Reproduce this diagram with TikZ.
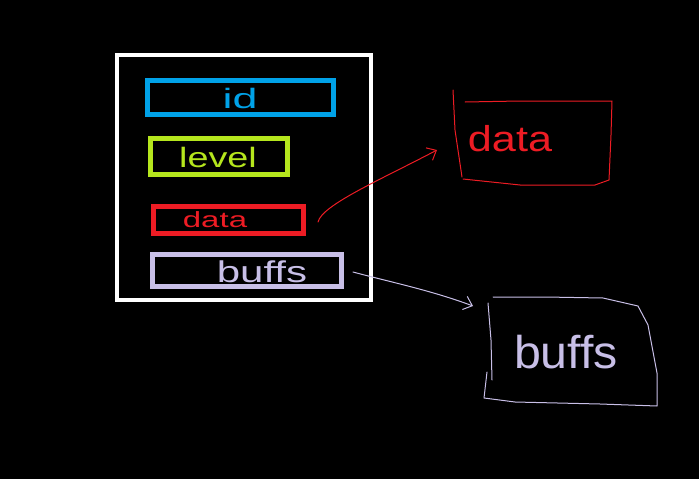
\documentclass[tikz,border=0pt]{standalone}
\usepackage{fontspec}
\usepackage{graphicx}
\setmainfont{Liberation Sans}
\usetikzlibrary{arrows.meta}
\definecolor{cblue}{HTML}{00A2E8}
\definecolor{cgreen}{HTML}{B5E61D}
\definecolor{cred}{HTML}{ED1C24}
\definecolor{clav}{HTML}{C8BFE7}
\tikzset{
  fieldbox/.style={draw, line width=5pt, inner sep=0pt},
  hand/.style={line width=1pt, line cap=round, line join=round},
  lbl/.style={inner sep=0pt, anchor=center},
  pointer/.style={hand, -{Straight Barb[length=8pt,width=14pt,line width=1pt]}}
}
\newcommand{\fs}[1]{\fontsize{#1}{#1}\selectfont}
\begin{document}
\begin{tikzpicture}[x=1pt,y=-1pt]
\fill[black] (0,0) rectangle (699,479);
\useasboundingbox (0,0) rectangle (699,479);
% struct box
\node[draw=white, line width=4pt, minimum width=254pt, minimum height=244.5pt, inner sep=0pt] (struct) at (244,177.25) {};
% fields
\node[fieldbox, draw=cblue, minimum width=186pt, minimum height=34pt] (id) at (240.5,97.5) {};
\node[lbl, text=cblue] (idt) at (240,98) {\scalebox{1.6}[1]{\fs{28}id}};
\node[fieldbox, draw=cgreen, minimum width=137pt, minimum height=36pt] (level) at (219,156.5) {};
\node[lbl, text=cgreen] (levelt) at (218,157) {\scalebox{1.35}[1]{\fs{28}level}};
\node[fieldbox, draw=cred, minimum width=150pt, minimum height=26.8pt] (data) at (228.5,219.9) {};
\node[lbl, text=cred] (datat) at (215,220) {\scalebox{1.5}[1]{\fs{22}data}};
\node[fieldbox, draw=clav, minimum width=189pt, minimum height=32pt] (buffs) at (247,270.5) {};
\node[lbl, text=clav] (buffst) at (262,272) {\scalebox{1.4}[1]{\fs{30}buffs}};
% right data box
\node[lbl, text=cred] (rdata) at (510,139) {\scalebox{1.2}[1]{\fs{36}data}};
\draw[hand, cred] (453,90) -- (455,130) -- (462,177);
\draw[hand, cred] (465,102) -- (520,101) -- (612,101) -- (611,135) -- (609,180) -- (595,185) -- (520,185) -- (463,179);
% right buffs box
\node[lbl, text=clav] (rbuffs) at (566,352) {\scalebox{1.05}[1]{\fs{46}buffs}};
\draw[hand, clav] (488,303) -- (491,340) -- (492,380);
\draw[hand, clav] (487,372) -- (484,398) -- (515,402) -- (600,404) -- (657,406) -- (657,373) -- (648,325) -- (638,306) -- (603,298) -- (545,297) -- (493,297);
% pointers
\coordinate (dfrom) at (318,222);
\coordinate (dto) at (437,150);
\coordinate (bfrom) at (353,272);
\coordinate (bto) at (473,306);
\draw[pointer, cred] (dfrom) .. controls (322,205) and (380,180) .. (dto);
\draw[pointer, clav] (bfrom) .. controls (390,282) and (430,290) .. (bto);
\end{tikzpicture}
\end{document}
